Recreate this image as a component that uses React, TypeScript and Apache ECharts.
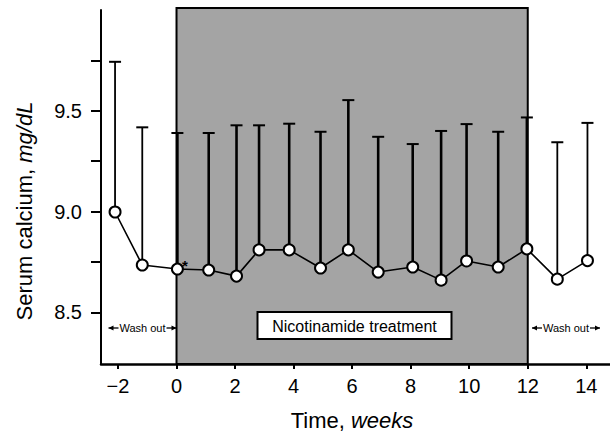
import { useEffect, useRef } from "react";
import * as echarts from "echarts";

// Study visit times (weeks) and serum calcium (mg/dL): mean and upper SD
const weeks = [-2.1, -1.17, 0.03, 1.1, 2.05, 2.82, 3.85, 4.92, 5.87, 6.89, 8.07, 9.04, 9.91, 10.99, 11.97, 13.01, 14.04];
const meanCalcium = [8.998, 8.735, 8.715, 8.71, 8.68, 8.81, 8.81, 8.72, 8.81, 8.7, 8.725, 8.66, 8.755, 8.725, 8.815, 8.665, 8.757];
const sdCalcium = [0.745, 0.683, 0.675, 0.68, 0.748, 0.618, 0.626, 0.676, 0.743, 0.671, 0.61, 0.74, 0.679, 0.671, 0.652, 0.679, 0.683];

const xTicks = [-2, 0, 2, 4, 6, 8, 10, 12, 14];
const yTicks = [8.5, 8.75, 9, 9.25, 9.5, 9.75];
const yTickLabels = [8.5, 9, 9.5];

// Treatment period (weeks)
const treatmentPeriod = [0, 12];

const FONT = "'Liberation Sans', Arial, Helvetica, sans-serif";

// "Wash out" label flanked by small outward arrows, centred on cx
function washOut(cx: number, cy: number) {
  const half = 34;
  const textHalf = 24;
  const head = 5;
  const stroke = { stroke: "#000", lineWidth: 1.3 };
  return {
    type: "group",
    z: 11,
    children: [
      {
        type: "text",
        x: cx,
        y: cy,
        style: {
          text: "Wash out",
          align: "center",
          verticalAlign: "middle",
          fontSize: 11,
          fontFamily: FONT,
          fill: "#000",
        },
      },
      { type: "line", shape: { x1: cx - half, y1: cy, x2: cx - textHalf, y2: cy }, style: stroke },
      { type: "line", shape: { x1: cx + textHalf, y1: cy, x2: cx + half, y2: cy }, style: stroke },
      {
        type: "polygon",
        shape: { points: [[cx - half, cy], [cx - half + head, cy - 2.5], [cx - half + head, cy + 2.5]] },
        style: { fill: "#000" },
      },
      {
        type: "polygon",
        shape: { points: [[cx + half, cy], [cx + half - head, cy - 2.5], [cx + half - head, cy + 2.5]] },
        style: { fill: "#000" },
      },
    ],
  };
}

export default function App() {
  const ref = useRef<HTMLDivElement>(null);

  useEffect(() => {
    if (!ref.current) return;
    const chart = echarts.init(ref.current, null, { renderer: "svg" });

    const Y_MIN = 8.244;
    const Y_MAX = 10.0;

    const barData = weeks.map((w, i) => [w, meanCalcium[i], meanCalcium[i] + sdCalcium[i]]);

    chart.setOption({
      animation: false,
      backgroundColor: "#fff",
      grid: { left: 101, right: 0, top: 10, bottom: 71 },
      xAxis: {
        type: "value",
        min: -2.58,
        max: 14.81,
        splitLine: { show: false },
        axisLine: { show: true, onZero: false, lineStyle: { color: "#000", width: 2.5 } },
        axisTick: {
          show: true,
          customValues: xTicks,
          length: 5,
          lineStyle: { color: "#000", width: 2 },
        },
        axisLabel: {
          customValues: xTicks,
          margin: 12,
          fontSize: 20,
          fontFamily: FONT,
          color: "#000",
          formatter: (v: number) => String(v).replace("-", "\u2212"),
        },
      },
      yAxis: {
        type: "value",
        min: Y_MIN,
        max: Y_MAX,
        splitLine: { show: false },
        axisLine: { show: true, onZero: false, lineStyle: { color: "#000", width: 2 } },
        axisTick: {
          show: true,
          customValues: yTicks,
          length: 10,
          lineStyle: { color: "#000", width: 2 },
        },
        axisLabel: {
          customValues: yTickLabels,
          margin: 19,
          fontSize: 20,
          fontFamily: FONT,
          color: "#000",
          formatter: (v: number) => v.toFixed(1),
        },
      },
      series: [
        {
          // shaded treatment period
          type: "custom",
          z: 1,
          silent: true,
          data: [treatmentPeriod],
          encode: { x: [0, 1] },
          renderItem: (_p: any, api: any) => {
            const a = api.coord([api.value(0), Y_MAX]);
            const b = api.coord([api.value(1), Y_MIN]);
            return {
              type: "rect",
              shape: { x: a[0], y: a[1] - 2, width: b[0] - a[0], height: b[1] - a[1] + 2 },
              style: { fill: "#a4a4a4", stroke: "#000", lineWidth: 2 },
            };
          },
        },
        {
          // upper SD bars
          type: "custom",
          z: 2,
          silent: true,
          data: barData,
          encode: { x: 0, y: [1, 2] },
          renderItem: (_p: any, api: any) => {
            const x = api.value(0);
            const p0 = api.coord([x, api.value(1)]);
            const p1 = api.coord([x, api.value(2)]);
            const inside = x >= treatmentPeriod[0] && x <= treatmentPeriod[1];
            return {
              type: "group",
              children: [
                {
                  type: "line",
                  shape: { x1: p0[0], y1: p0[1], x2: p1[0], y2: p1[1] },
                  style: { stroke: "#000", lineWidth: inside ? 2.6 : 1.8 },
                },
                {
                  type: "line",
                  shape: { x1: p1[0] - 6, y1: p1[1], x2: p1[0] + 6, y2: p1[1] },
                  style: { stroke: "#000", lineWidth: 2 },
                },
              ],
            };
          },
        },
        {
          type: "line",
          z: 3,
          silent: true,
          data: weeks.map((w, i) => [w, meanCalcium[i]]),
          symbol: "circle",
          symbolSize: 11,
          lineStyle: { color: "#000", width: 1.6 },
          itemStyle: { color: "#fff", borderColor: "#000", borderWidth: 2 },
        },
      ],
      graphic: [
        {
          type: "text",
          x: 24,
          y: 211,
          rotation: Math.PI / 2,
          style: {
            text: "{a|Serum calcium, }{b|mg/dL}",
            align: "center",
            verticalAlign: "middle",
            fill: "#000",
            rich: {
              a: { fontSize: 22, fontFamily: FONT, fill: "#000" },
              b: { fontSize: 22, fontFamily: FONT, fontStyle: "italic", fill: "#000" },
            },
          },
        },
        {
          type: "text",
          x: 352,
          y: 420,
          style: {
            text: "{a|Time, }{b|weeks}",
            align: "center",
            verticalAlign: "middle",
            fill: "#000",
            rich: {
              a: { fontSize: 22, fontFamily: FONT, fill: "#000" },
              b: { fontSize: 22, fontFamily: FONT, fontStyle: "italic", fill: "#000" },
            },
          },
        },
        {
          type: "rect",
          z: 10,
          shape: { x: 257.5, y: 312, width: 194, height: 27 },
          style: { fill: "#fff", stroke: "#000", lineWidth: 2 },
        },
        {
          type: "text",
          z: 11,
          x: 354.5,
          y: 326,
          style: {
            text: "Nicotinamide treatment",
            align: "center",
            verticalAlign: "middle",
            fontSize: 16,
            fontFamily: FONT,
            fill: "#000",
          },
        },
        washOut(142.5, 328),
        washOut(566, 328),
        {
          type: "text",
          z: 11,
          x: 185,
          y: 265,
          style: {
            text: "*",
            align: "center",
            verticalAlign: "middle",
            fontSize: 15,
            fontWeight: "bold",
            fontFamily: FONT,
            fill: "#000",
          },
        },
      ],
    });

    return () => chart.dispose();
  }, []);

  return (
    <div
      ref={ref}
      style={{ position: "fixed", left: 0, top: 0, width: 610, height: 435 }}
    />
  );
}
